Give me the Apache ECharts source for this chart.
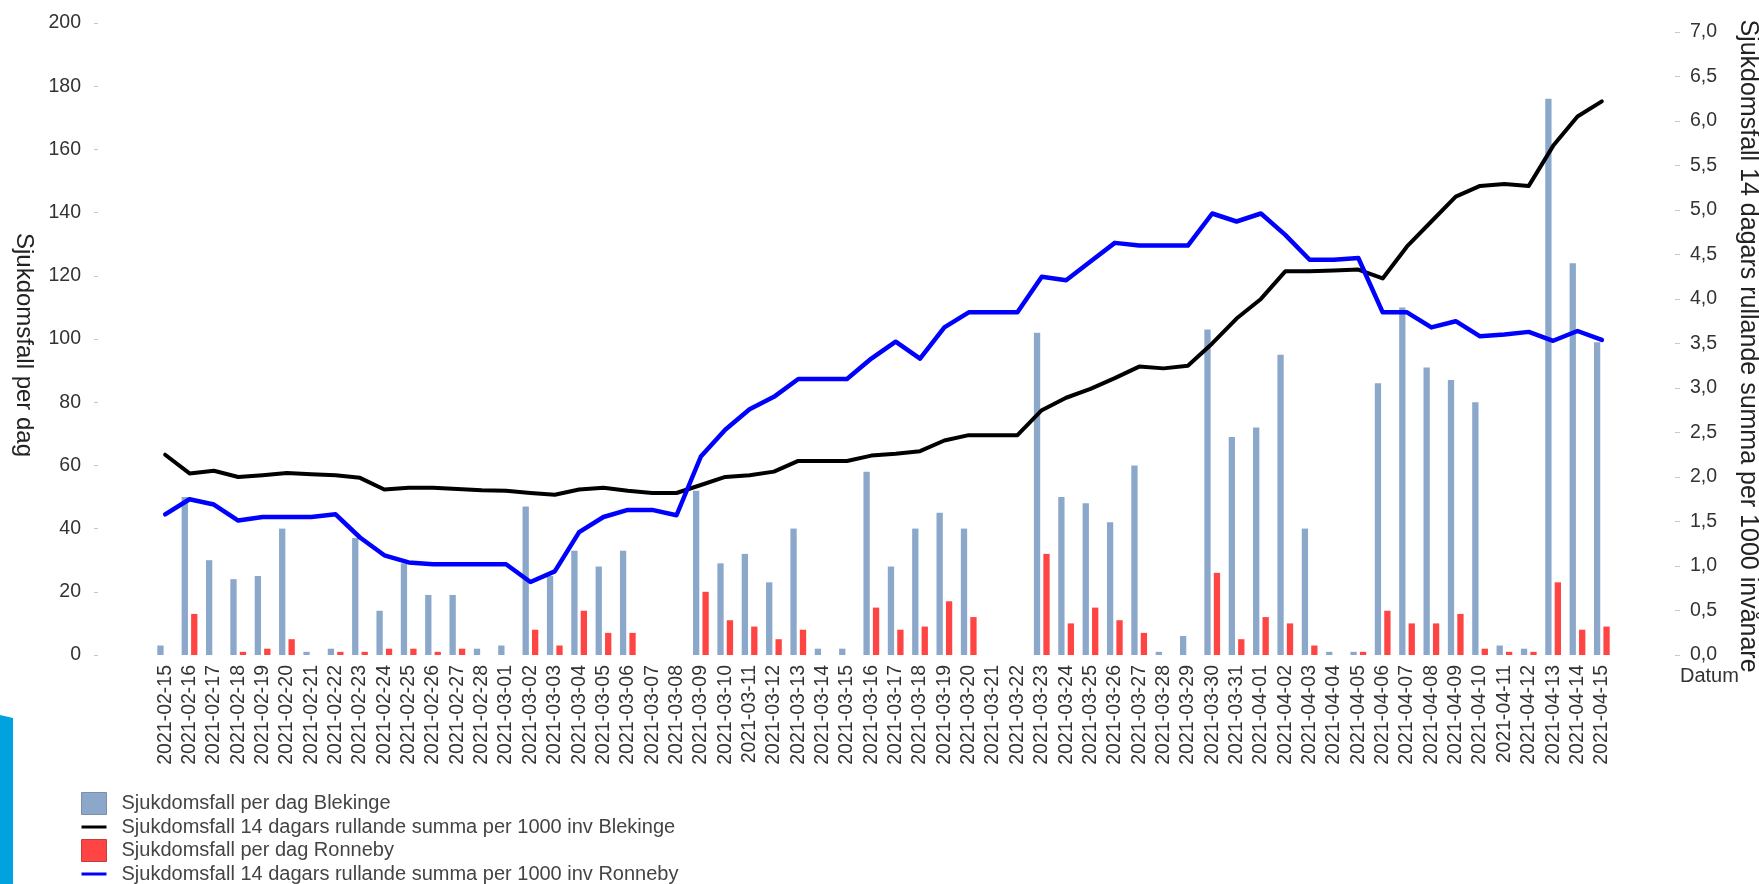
<!DOCTYPE html>
<html>
<head>
<meta charset="utf-8">
<script src="https://cdn.jsdelivr.net/npm/echarts@6/dist/echarts.min.js"></script>
<style>
html,body{margin:0;padding:0;background:#fff;}
#c{width:1759px;height:884px;}
</style>
</head>
<body>
<div id="c"></div>
<script>
const dates = [
  "2021-02-15","2021-02-16","2021-02-17","2021-02-18","2021-02-19","2021-02-20","2021-02-21","2021-02-22","2021-02-23","2021-02-24",
  "2021-02-25","2021-02-26","2021-02-27","2021-02-28","2021-03-01","2021-03-02","2021-03-03","2021-03-04","2021-03-05","2021-03-06",
  "2021-03-07","2021-03-08","2021-03-09","2021-03-10","2021-03-11","2021-03-12","2021-03-13","2021-03-14","2021-03-15","2021-03-16",
  "2021-03-17","2021-03-18","2021-03-19","2021-03-20","2021-03-21","2021-03-22","2021-03-23","2021-03-24","2021-03-25","2021-03-26",
  "2021-03-27","2021-03-28","2021-03-29","2021-03-30","2021-03-31","2021-04-01","2021-04-02","2021-04-03","2021-04-04","2021-04-05",
  "2021-04-06","2021-04-07","2021-04-08","2021-04-09","2021-04-10","2021-04-11","2021-04-12","2021-04-13","2021-04-14","2021-04-15"
];
const blekingeDaily = [
  3,50,30,24,25,40,1,2,37,14,
  29,19,19,2,3,47,25,33,28,33,
  0,0,52,29,32,23,40,2,2,58,
  28,40,45,40,0,0,102,50,48,42,
  60,1,6,103,69,72,95,40,1,1,
  86,110,91,87,80,3,2,176,124,99
];
const ronnebyDaily = [
  0,13,0,1,2,5,0,1,1,2,
  2,1,2,0,0,8,3,14,7,7,
  0,0,20,11,9,5,8,0,0,15,
  8,9,17,12,0,0,32,10,15,11,
  7,0,0,26,5,12,10,3,0,1,
  14,10,10,13,2,1,1,23,8,9
];
const blekingeRolling = [
  2.25,2.04,2.07,2.00,2.02,2.045,2.03,2.02,1.99,1.86,
  1.88,1.88,1.865,1.85,1.845,1.82,1.80,1.86,1.88,1.845,
  1.82,1.82,1.91,2.00,2.02,2.06,2.18,2.18,2.18,2.24,
  2.26,2.29,2.41,2.47,2.47,2.47,2.75,2.89,2.99,3.11,
  3.24,3.22,3.25,3.50,3.78,4.00,4.31,4.31,4.32,4.33,
  4.23,4.59,4.87,5.15,5.27,5.29,5.27,5.72,6.05,6.22
];
const ronnebyRolling = [
  1.58,1.75,1.69,1.51,1.55,1.55,1.55,1.58,1.32,1.12,
  1.04,1.02,1.02,1.02,1.02,0.82,0.94,1.38,1.55,1.63,
  1.63,1.57,2.23,2.53,2.76,2.90,3.10,3.10,3.10,3.33,
  3.52,3.33,3.68,3.85,3.85,3.85,4.25,4.21,4.42,4.63,
  4.60,4.60,4.60,4.96,4.87,4.96,4.72,4.44,4.44,4.46,
  3.85,3.85,3.68,3.75,3.58,3.60,3.63,3.53,3.64,3.54
];
const leftTicks = [0,20,40,60,80,100,120,140,160,180,200];
const rightTicks = [0,0.5,1,1.5,2,2.5,3,3.5,4,4.5,5,5.5,6,6.5,7];
const names = [
  "Sjukdomsfall per dag Blekinge",
  "Sjukdomsfall 14 dagars rullande summa per 1000 inv Blekinge",
  "Sjukdomsfall per dag Ronneby",
  "Sjukdomsfall 14 dagars rullande summa per 1000 inv Ronneby"
];

const FONT = "'Liberation Sans', Arial, sans-serif";
const chart = echarts.init(document.getElementById('c'), null, {renderer: 'canvas'});
const option = {
  animation: false,
  backgroundColor: '#ffffff',
  textStyle: {fontFamily: FONT},
  grid: {left: 153, right: 145, top: 23, bottom: 229, outerBoundsMode: 'none', containLabel: false},
  legend: {
    orient: 'vertical',
    left: 81, top: 792, height: 120, padding: 0,
    itemWidth: 25, itemHeight: 22, itemGap: 2,
    selectedMode: false,
    textStyle: {fontFamily: FONT, fontSize: 20, color: '#444', padding: [0,0,0,10]},
    data: [
      {name: names[0], icon: 'rect', itemStyle: {borderColor: '#7d8fa6', borderWidth: 1}},
      {name: names[1], icon: 'path://M0,0H25V3H0Z'},
      {name: names[2], icon: 'rect', itemStyle: {borderColor: '#c04040', borderWidth: 1}},
      {name: names[3], icon: 'path://M0,0H25V3H0Z'}
    ]
  },
  xAxis: {
    type: 'category',
    data: dates,
    name: 'Datum',
    nameLocation: 'end',
    nameGap: 66,
    nameTextStyle: {fontFamily: FONT, fontSize: 20, color: '#333', verticalAlign: 'top', padding: [11,0,0,0]},
    axisLine: {show: false},
    axisTick: {show: false},
    axisLabel: {rotate: 90, interval: 0, margin: 10, fontSize: 19.5, color: '#333', fontFamily: FONT},
    splitLine: {show: false}
  },
  yAxis: [
    {
      type: 'value', min: 0, max: 200, interval: 20,
      offset: 55,
      name: 'Sjukdomsfall per dag',
      nameLocation: 'middle', nameRotate: -90, nameGap: 62,
      nameTextStyle: {fontFamily: FONT, fontSize: 24, color: '#222', padding: [0,0,0,12]},
      axisLine: {show: false},
      axisTick: {show: true, length: 4, lineStyle: {color: '#c8c8c8', width: 1}, customValues: leftTicks},
      axisLabel: {margin: 17, fontSize: 19.5, color: '#333', fontFamily: FONT, customValues: leftTicks},
      splitLine: {show: false}
    },
    {
      type: 'value', min: 0, max: 7.1, interval: 0.5,
      offset: 61,
      position: 'right',
      name: 'Sjukdomsfall 14 dagars rullande summa per 1000 invånare',
      nameLocation: 'middle', nameRotate: -90, nameGap: 60,
      nameTextStyle: {fontFamily: FONT, fontSize: 25, color: '#222', padding: [0,0,0,14]},
      axisLine: {show: false},
      axisTick: {show: true, length: 5, lineStyle: {color: '#c8c8c8', width: 1}, customValues: rightTicks},
      axisLabel: {
        margin: 15, fontSize: 19.5, color: '#333', fontFamily: FONT, customValues: rightTicks,
        formatter: function (v) {
          if (Math.abs(v * 2 - Math.round(v * 2)) > 1e-6) return '';
          return v.toFixed(1).replace('.', ',');
        }
      },
      splitLine: {show: false}
    }
  ],
  series: [
    {
      name: names[0], type: 'bar', yAxisIndex: 0, data: blekingeDaily,
      barWidth: 6.3, barGap: '50%',
      itemStyle: {color: '#8ba8cb'}, z: 2
    },
    {
      name: names[1], type: 'line', yAxisIndex: 1, data: blekingeRolling,
      symbol: 'none', showSymbol: false,
      lineStyle: {color: '#000000', width: 4, join: 'round', cap: 'round'},
      itemStyle: {color: '#000000'}, z: 4
    },
    {
      name: names[2], type: 'bar', yAxisIndex: 0, data: ronnebyDaily,
      barWidth: 6.3, barGap: '50%',
      itemStyle: {color: '#ff4444'}, z: 2
    },
    {
      name: names[3], type: 'line', yAxisIndex: 1, data: ronnebyRolling,
      symbol: 'none', showSymbol: false,
      lineStyle: {color: '#0000ff', width: 4.5, join: 'round', cap: 'round'},
      itemStyle: {color: '#0000ff'}, z: 5
    }
  ],
  graphic: [
    {
      type: 'polygon', left: 0, top: 715, silent: true,
      shape: {points: [[0,0],[13,3],[13,169],[0,169]]},
      style: {fill: '#00a3e0'}
    }
  ]
};
chart.setOption(option);
</script>
</body>
</html>
